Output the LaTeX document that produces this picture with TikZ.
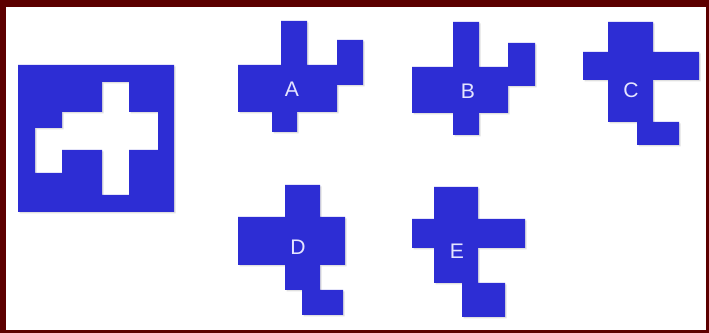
\documentclass[tikz,border=0pt]{standalone}
\usepackage{fontspec}
\setmainfont{Liberation Sans}
\definecolor{puzzleblue}{RGB}{45,45,212}
\definecolor{framered}{RGB}{92,0,0}
\tikzset{
  piece/.style={fill=puzzleblue, draw=none},
  pieceshadow/.style={fill=black, opacity=0.12, shift={(1.5,1.5)}},
  piecelabel/.style={text=white!90!blue, font=\fontsize{15}{15}\selectfont, inner sep=0pt},
  edgeband/.style={fill=framered, draw=none},
}

\begin{document}
\begin{tikzpicture}[x=0.025cm, y=-0.025cm]
\useasboundingbox (0,0) rectangle (709,333);
\fill[white] (0,0) rectangle (709,333);
\fill[edgeband] (0,0) rectangle (709,7);
\fill[edgeband] (0,0) rectangle (6,333);
\fill[edgeband] (706,0) rectangle (709,333);
\fill[edgeband] (0,330) rectangle (709,333);
% frame with the hole
\fill[pieceshadow, even odd rule] (18,65) rectangle (174,212)
  (102,82) -- (129,82) -- (129,112) -- (158,112) -- (158,150) -- (129,150) -- (129,195) -- (102,195)
  -- (102,150) -- (62,150) -- (62,173) -- (35,173) -- (35,128) -- (62,128) -- (62,112) -- (102,112) -- cycle;
\fill[piece, even odd rule] (18,65) rectangle (174,212)
  (102,82) -- (129,82) -- (129,112) -- (158,112) -- (158,150) -- (129,150) -- (129,195) -- (102,195)
  -- (102,150) -- (62,150) -- (62,173) -- (35,173) -- (35,128) -- (62,128) -- (62,112) -- (102,112) -- cycle;
% pieces
\fill[pieceshadow] (281,21) -- (307,21) -- (307,65) -- (337,65) -- (337,40) -- (363,40) -- (363,85) -- (337,85)
  -- (337,112) -- (297,112) -- (297,132) -- (272,132) -- (272,112) -- (238,112) -- (238,65) -- (281,65) -- cycle;
\fill[piece] (281,21) -- (307,21) -- (307,65) -- (337,65) -- (337,40) -- (363,40) -- (363,85) -- (337,85)
  -- (337,112) -- (297,112) -- (297,132) -- (272,132) -- (272,112) -- (238,112) -- (238,65) -- (281,65) -- cycle;
\fill[pieceshadow] (453,22) -- (479,22) -- (479,67) -- (508,67) -- (508,43) -- (535,43) -- (535,86) -- (508,86)
  -- (508,113) -- (479,113) -- (479,135) -- (453,135) -- (453,113) -- (412,113) -- (412,67) -- (453,67) -- cycle;
\fill[piece] (453,22) -- (479,22) -- (479,67) -- (508,67) -- (508,43) -- (535,43) -- (535,86) -- (508,86)
  -- (508,113) -- (479,113) -- (479,135) -- (453,135) -- (453,113) -- (412,113) -- (412,67) -- (453,67) -- cycle;
\fill[pieceshadow] (608,22) -- (653,22) -- (653,52) -- (699,52) -- (699,80) -- (653,80) -- (653,122) -- (679,122)
  -- (679,145) -- (637,145) -- (637,122) -- (608,122) -- (608,80) -- (583,80) -- (583,52) -- (608,52) -- cycle;
\fill[piece] (608,22) -- (653,22) -- (653,52) -- (699,52) -- (699,80) -- (653,80) -- (653,122) -- (679,122)
  -- (679,145) -- (637,145) -- (637,122) -- (608,122) -- (608,80) -- (583,80) -- (583,52) -- (608,52) -- cycle;
\fill[pieceshadow] (285,185) -- (320,185) -- (320,217) -- (345,217) -- (345,265) -- (320,265) -- (320,290) -- (343,290)
  -- (343,315) -- (302,315) -- (302,290) -- (285,290) -- (285,265) -- (238,265) -- (238,217) -- (285,217) -- cycle;
\fill[piece] (285,185) -- (320,185) -- (320,217) -- (345,217) -- (345,265) -- (320,265) -- (320,290) -- (343,290)
  -- (343,315) -- (302,315) -- (302,290) -- (285,290) -- (285,265) -- (238,265) -- (238,217) -- (285,217) -- cycle;
\fill[pieceshadow] (434,187) -- (478,187) -- (478,219) -- (525,219) -- (525,248) -- (478,248) -- (478,283) -- (505,283)
  -- (505,317) -- (462,317) -- (462,283) -- (434,283) -- (434,248) -- (412,248) -- (412,219) -- (434,219) -- cycle;
\fill[piece] (434,187) -- (478,187) -- (478,219) -- (525,219) -- (525,248) -- (478,248) -- (478,283) -- (505,283)
  -- (505,317) -- (462,317) -- (462,283) -- (434,283) -- (434,248) -- (412,248) -- (412,219) -- (434,219) -- cycle;
% labels
\node[piecelabel] (labelA) at (292,89) {A};
\node[piecelabel] (labelB) at (468,91) {B};
\node[piecelabel] (labelC) at (631,90) {C};
\node[piecelabel] (labelD) at (298,247) {D};
\node[piecelabel] (labelE) at (457,251) {E};
\end{tikzpicture}
\end{document}
